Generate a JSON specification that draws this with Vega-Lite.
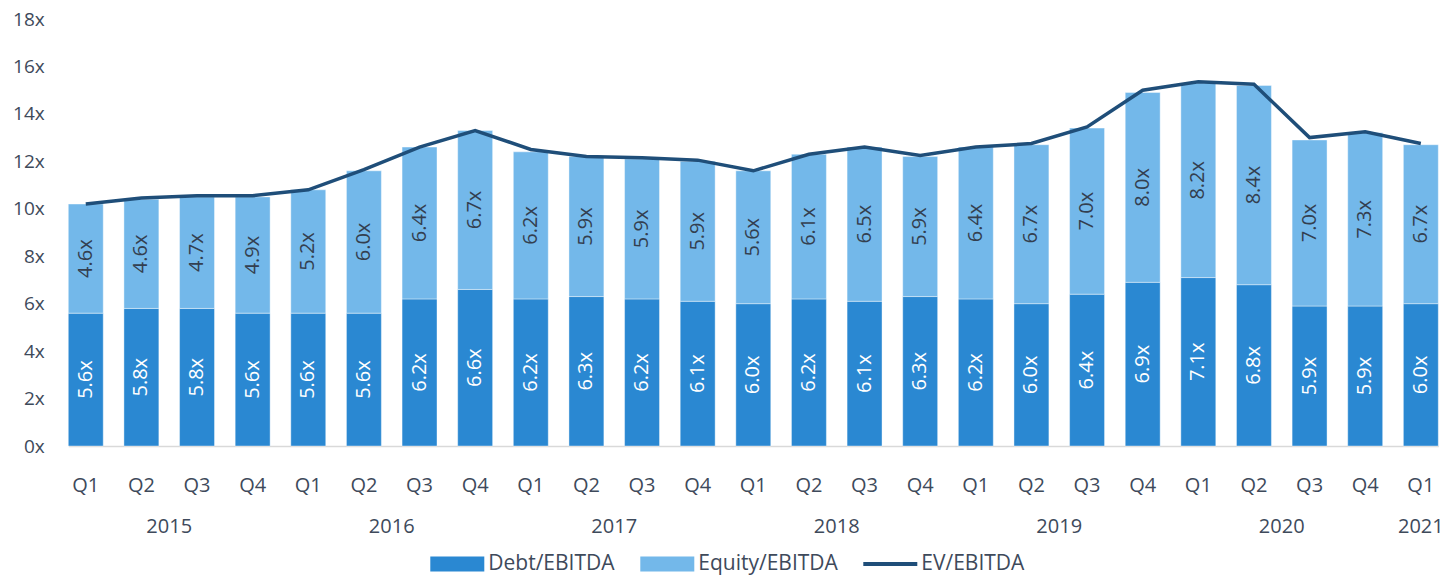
{
  "$schema": "https://vega.github.io/schema/vega-lite/v6.json",
  "width": 1370,
  "height": 427,
  "autosize": {"type": "none"},
  "padding": {"left": 68.3, "top": 19, "right": 17.7, "bottom": 139},
  "background": "white",
  "config": {"view": {"stroke": null}, "font": "Open Sans"},
  "data": {
    "values": [
      {"period": "2015 Q1", "year": "2015", "quarter": "Q1", "Debt/EBITDA": 5.6, "Equity/EBITDA": 4.6, "EV/EBITDA": 10.2},
      {"period": "2015 Q2", "year": "2015", "quarter": "Q2", "Debt/EBITDA": 5.8, "Equity/EBITDA": 4.6, "EV/EBITDA": 10.45},
      {"period": "2015 Q3", "year": "2015", "quarter": "Q3", "Debt/EBITDA": 5.8, "Equity/EBITDA": 4.7, "EV/EBITDA": 10.55},
      {"period": "2015 Q4", "year": "2015", "quarter": "Q4", "Debt/EBITDA": 5.6, "Equity/EBITDA": 4.9, "EV/EBITDA": 10.55},
      {"period": "2016 Q1", "year": "2016", "quarter": "Q1", "Debt/EBITDA": 5.6, "Equity/EBITDA": 5.2, "EV/EBITDA": 10.8},
      {"period": "2016 Q2", "year": "2016", "quarter": "Q2", "Debt/EBITDA": 5.6, "Equity/EBITDA": 6.0, "EV/EBITDA": 11.65},
      {"period": "2016 Q3", "year": "2016", "quarter": "Q3", "Debt/EBITDA": 6.2, "Equity/EBITDA": 6.4, "EV/EBITDA": 12.6},
      {"period": "2016 Q4", "year": "2016", "quarter": "Q4", "Debt/EBITDA": 6.6, "Equity/EBITDA": 6.7, "EV/EBITDA": 13.3},
      {"period": "2017 Q1", "year": "2017", "quarter": "Q1", "Debt/EBITDA": 6.2, "Equity/EBITDA": 6.2, "EV/EBITDA": 12.5},
      {"period": "2017 Q2", "year": "2017", "quarter": "Q2", "Debt/EBITDA": 6.3, "Equity/EBITDA": 5.9, "EV/EBITDA": 12.2},
      {"period": "2017 Q3", "year": "2017", "quarter": "Q3", "Debt/EBITDA": 6.2, "Equity/EBITDA": 5.9, "EV/EBITDA": 12.15},
      {"period": "2017 Q4", "year": "2017", "quarter": "Q4", "Debt/EBITDA": 6.1, "Equity/EBITDA": 5.9, "EV/EBITDA": 12.05},
      {"period": "2018 Q1", "year": "2018", "quarter": "Q1", "Debt/EBITDA": 6.0, "Equity/EBITDA": 5.6, "EV/EBITDA": 11.6},
      {"period": "2018 Q2", "year": "2018", "quarter": "Q2", "Debt/EBITDA": 6.2, "Equity/EBITDA": 6.1, "EV/EBITDA": 12.3},
      {"period": "2018 Q3", "year": "2018", "quarter": "Q3", "Debt/EBITDA": 6.1, "Equity/EBITDA": 6.5, "EV/EBITDA": 12.6},
      {"period": "2018 Q4", "year": "2018", "quarter": "Q4", "Debt/EBITDA": 6.3, "Equity/EBITDA": 5.9, "EV/EBITDA": 12.25},
      {"period": "2019 Q1", "year": "2019", "quarter": "Q1", "Debt/EBITDA": 6.2, "Equity/EBITDA": 6.4, "EV/EBITDA": 12.6},
      {"period": "2019 Q2", "year": "2019", "quarter": "Q2", "Debt/EBITDA": 6.0, "Equity/EBITDA": 6.7, "EV/EBITDA": 12.75},
      {"period": "2019 Q3", "year": "2019", "quarter": "Q3", "Debt/EBITDA": 6.4, "Equity/EBITDA": 7.0, "EV/EBITDA": 13.45},
      {"period": "2019 Q4", "year": "2019", "quarter": "Q4", "Debt/EBITDA": 6.9, "Equity/EBITDA": 8.0, "EV/EBITDA": 15.0},
      {"period": "2020 Q1", "year": "2020", "quarter": "Q1", "Debt/EBITDA": 7.1, "Equity/EBITDA": 8.2, "EV/EBITDA": 15.35},
      {"period": "2020 Q2", "year": "2020", "quarter": "Q2", "Debt/EBITDA": 6.8, "Equity/EBITDA": 8.4, "EV/EBITDA": 15.25},
      {"period": "2020 Q3", "year": "2020", "quarter": "Q3", "Debt/EBITDA": 5.9, "Equity/EBITDA": 7.0, "EV/EBITDA": 13.0},
      {"period": "2020 Q4", "year": "2020", "quarter": "Q4", "Debt/EBITDA": 5.9, "Equity/EBITDA": 7.3, "EV/EBITDA": 13.25},
      {"period": "2021 Q1", "year": "2021", "quarter": "Q1", "Debt/EBITDA": 6.0, "Equity/EBITDA": 6.7, "EV/EBITDA": 12.75}
    ]
  },
  "encoding": {
    "x": {
      "field": "period",
      "type": "ordinal",
      "sort": null,
      "scale": {"paddingInner": 0.372, "paddingOuter": 0},
      "axis": {
        "title": null,
        "labelExpr": "split(datum.value, ' ')[1]",
        "labelAngle": 0,
        "labelFontSize": 20,
        "labelColor": "#3E4A5B",
        "labelPadding": 29,
        "ticks": false,
        "domainColor": "#D9D9D9",
        "domainWidth": 1.5
      }
    }
  },
  "layer": [
    {
      "transform": [{"fold": ["Debt/EBITDA", "Equity/EBITDA"], "as": ["key", "val"]}],
      "mark": {"type": "bar", "stroke": "#FFFFFF", "strokeWidth": 0.8, "strokeOpacity": 0.5},
      "encoding": {
        "y": {
          "field": "val",
          "type": "quantitative",
          "stack": "zero",
          "scale": {"domain": [0, 18]},
          "axis": {
            "title": null,
            "values": [0, 2, 4, 6, 8, 10, 12, 14, 16, 18],
            "labelExpr": "datum.value + 'x'",
            "domain": false,
            "ticks": false,
            "grid": false,
            "labelFontSize": 19,
            "labelColor": "#3E4A5B",
            "labelPadding": 24
          }
        },
        "color": {
          "field": "key",
          "type": "nominal",
          "scale": {
            "domain": ["Debt/EBITDA", "Equity/EBITDA", "EV/EBITDA"],
            "range": ["#2A88D2", "#73B8EA", "#1F4E79"]
          },
          "legend": {
            "title": null,
            "orient": "none",
            "legendX": 362,
            "legendY": 518,
            "direction": "horizontal",
            "symbolSize": 2916,
            "symbolType": "M-1,-0.28H1V0.28H-1Z",
            "symbolStrokeWidth": 0,
            "labelFontSize": 21,
            "labelColor": "#3E4A5B",
            "labelOffset": 4,
            "columnPadding": 25,
            "encoding": {
              "symbols": {
                "shape": {
                  "condition": {"test": "datum.value === 'EV/EBITDA'", "value": "M-1,-0.075H1V0.075H-1Z"},
                  "value": "M-1,-0.28H1V0.28H-1Z"
                },
                "strokeWidth": {"value": 0}
              }
            }
          }
        },
        "order": {"field": "key", "sort": "ascending"}
      }
    },
    {
      "mark": {"type": "line", "color": "#1F4E79", "strokeWidth": 3.5},
      "encoding": {
        "y": {"field": "EV/EBITDA", "type": "quantitative", "scale": {"domain": [0, 18]}}
      }
    },
    {
      "transform": [
        {"fold": ["Debt/EBITDA", "Equity/EBITDA"], "as": ["key", "val"]},
        {"stack": "val", "groupby": ["period"], "sort": [{"field": "key", "order": "ascending"}], "as": ["y0", "y1"]},
        {"fold": ["y0", "y1"], "as": ["edge", "pos"]},
        {"aggregate": [{"op": "mean", "field": "pos", "as": "mid"}, {"op": "max", "field": "val", "as": "v"}], "groupby": ["period", "key"]}
      ],
      "mark": {
        "type": "text",
        "angle": 270,
        "align": "center",
        "baseline": "middle",
        "fontSize": 20,
        "text": {"expr": "format(datum.v, '.1f') + 'x'"}
      },
      "encoding": {
        "y": {"field": "mid", "type": "quantitative", "scale": {"domain": [0, 18]}},
        "color": {
          "condition": {"test": "datum.key === 'Debt/EBITDA'", "value": "#FFFFFF"},
          "value": "#333F50"
        }
      }
    },
    {
      "transform": [{"filter": "datum.quarter === 'Q2' && datum.year !== '2021'"}],
      "mark": {"type": "text", "fontSize": 20, "color": "#3E4A5B", "dx": 27.8, "dy": 81, "baseline": "middle", "align": "center"},
      "encoding": {
        "y": {"datum": 0, "type": "quantitative", "scale": {"domain": [0, 18]}},
        "text": {"field": "year"}
      }
    },
    {
      "transform": [{"filter": "datum.year === '2021'"}],
      "mark": {"type": "text", "fontSize": 20, "color": "#3E4A5B", "dy": 81, "baseline": "middle", "align": "center"},
      "encoding": {
        "y": {"datum": 0, "type": "quantitative", "scale": {"domain": [0, 18]}},
        "text": {"field": "year"}
      }
    }
  ]
}
